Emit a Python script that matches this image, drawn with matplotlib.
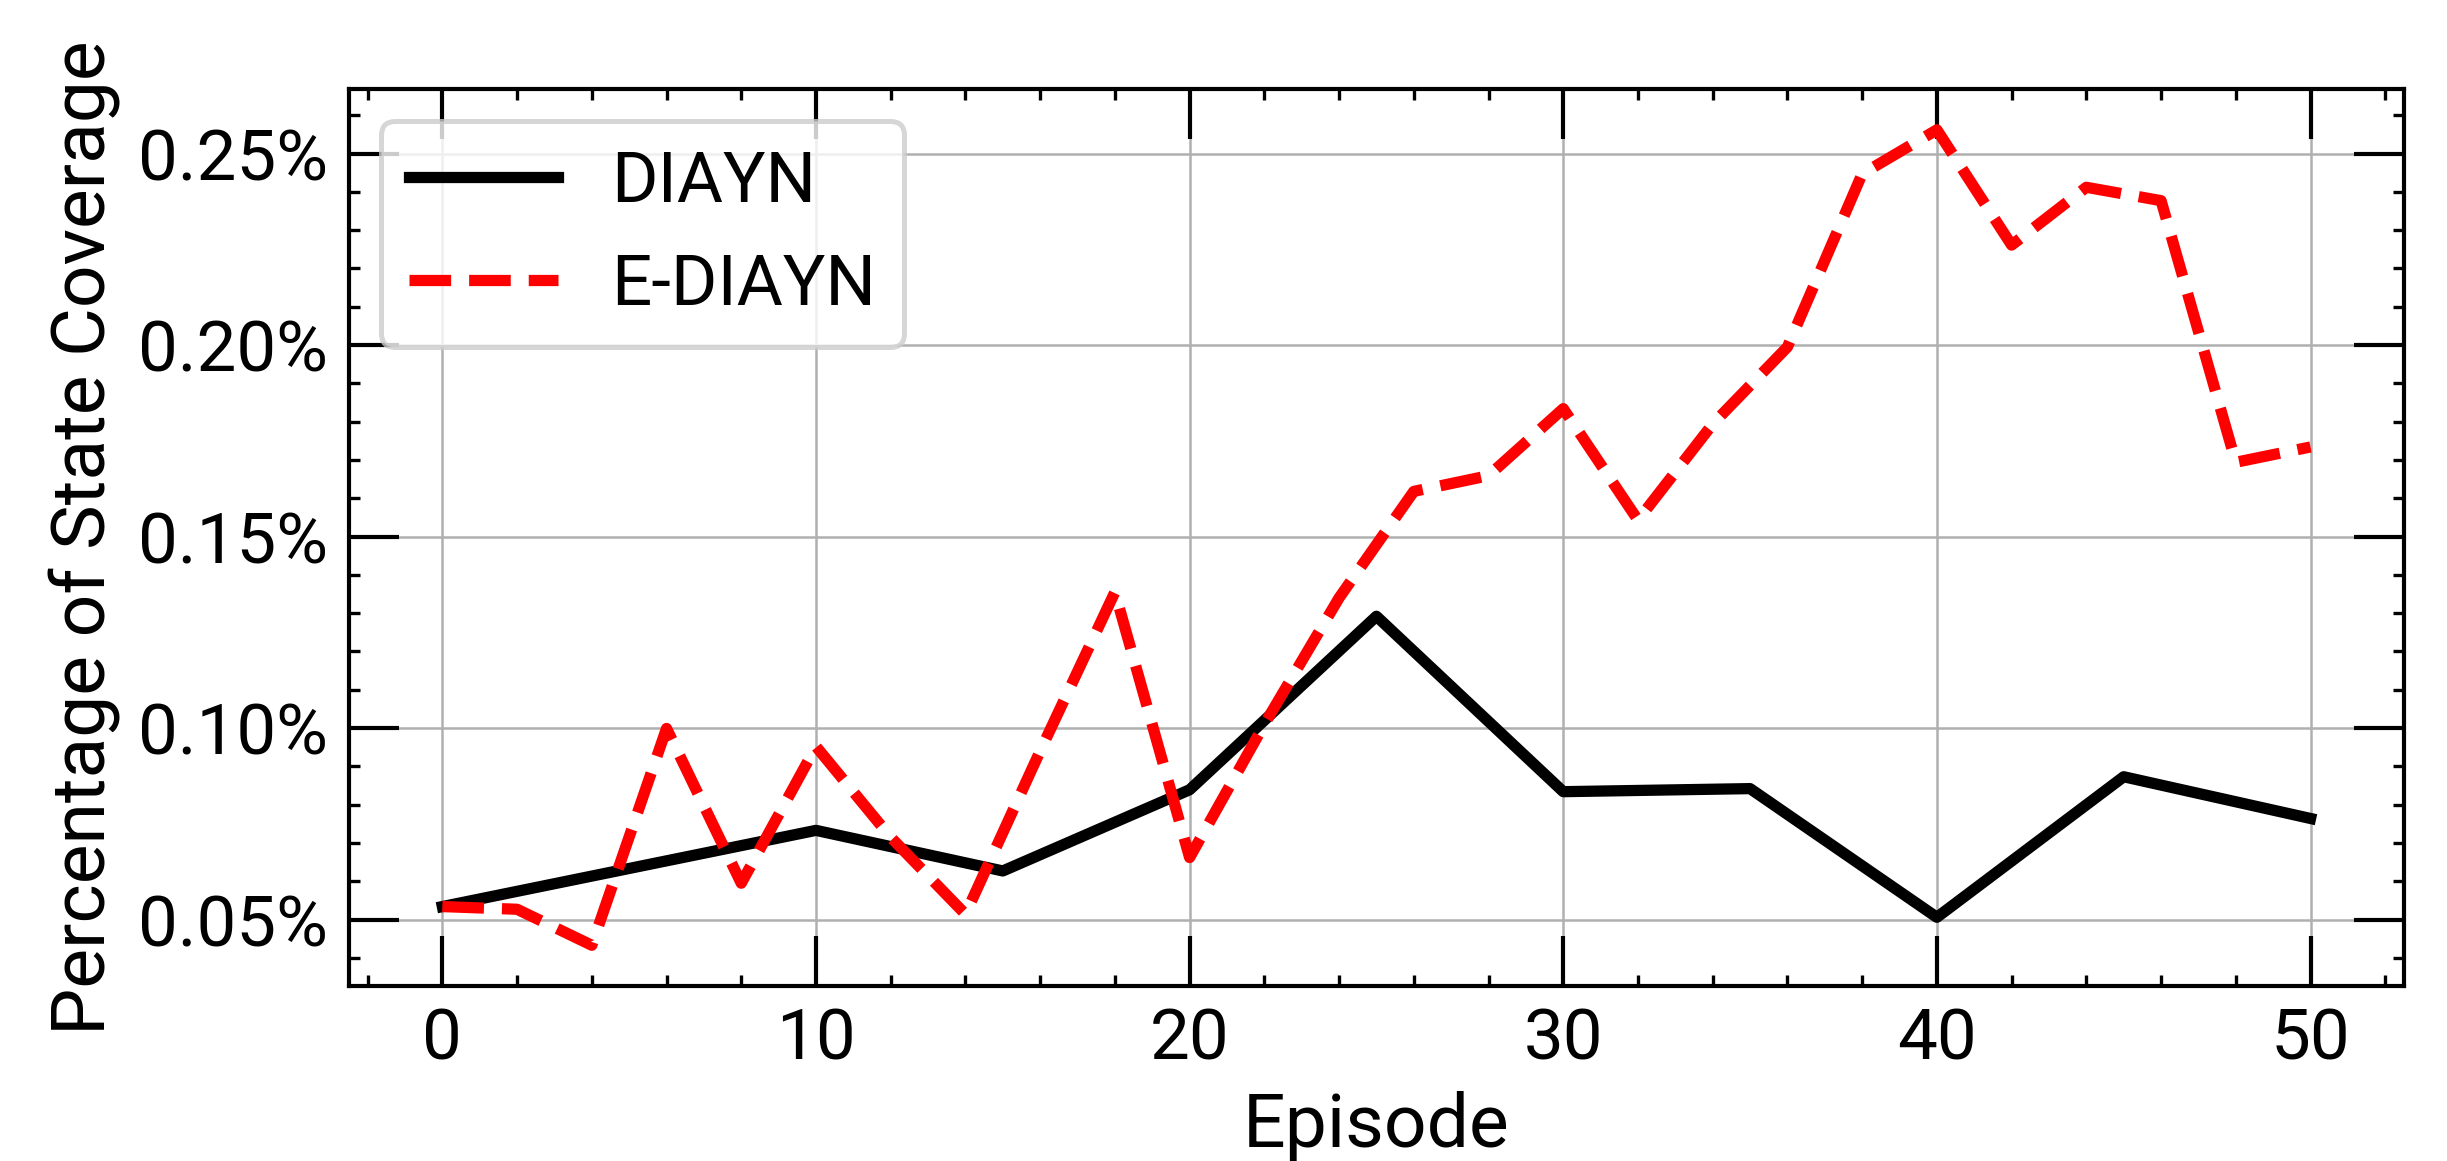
import numpy as np
import matplotlib.pyplot as plt
from matplotlib.ticker import MultipleLocator, FuncFormatter

# Datos
ep_diayn = [0, 10, 15, 20, 25, 30, 35, 40, 45, 50]
cov_diayn = [0.0534, 0.0733, 0.0627, 0.0839, 0.1292, 0.0834, 0.0842, 0.0506, 0.0873, 0.0764]

ep_ediayn = [0, 2, 4, 6, 8, 10, 12, 14, 16, 18, 20, 22, 24, 26,
             28, 30, 32, 34, 36, 38, 40, 42, 44, 46, 48, 50]
cov_ediayn = [0.0534, 0.0527, 0.0433, 0.0999, 0.0595, 0.0952, 0.0715, 0.0514,
              0.0940, 0.1355, 0.0662, 0.1010, 0.1340, 0.1618, 0.1659, 0.1834,
              0.1543, 0.1794, 0.1995, 0.2447, 0.2562, 0.2261, 0.2412, 0.2377,
              0.1694, 0.1734]

plt.rcParams['font.family'] = ['Roboto', 'DejaVu Sans']
plt.rcParams['xtick.direction'] = 'in'
plt.rcParams['ytick.direction'] = 'in'

fig = plt.figure(figsize=(2447 / 300, 1161 / 300), dpi=300)
ax = fig.add_axes([0.1426, 0.1507, 0.8398, 0.7726])

ax.plot(ep_diayn, cov_diayn, color='black', linewidth=2.7, label='DIAYN')
ax.plot(ep_ediayn, cov_ediayn, color='red', linestyle='--', linewidth=2.7,
        label='E-DIAYN')

ax.xaxis.set_major_locator(MultipleLocator(10))
ax.xaxis.set_minor_locator(MultipleLocator(2))
ax.yaxis.set_major_locator(MultipleLocator(0.05))
ax.yaxis.set_minor_locator(MultipleLocator(0.01))
ax.yaxis.set_major_formatter(FuncFormatter(lambda v, p: f'{v:.2f}%'))

ax.tick_params(which='both', top=True, right=True, labelsize=17)
ax.tick_params(which='major', length=12, width=1)
ax.tick_params(which='minor', length=2.6, width=0.8)
ax.tick_params(axis='y', which='major', pad=5)
ax.tick_params(axis='x', which='major', pad=5)
for s in ax.spines.values():
    s.set_linewidth(1)

ax.grid(True, color='#b0b0b0', linewidth=0.6)
ax.set_xlabel('Episode', fontsize=18, labelpad=4)
ax.set_ylabel('Percentage of State Coverage', fontsize=18, labelpad=4)

leg = ax.legend(loc='upper left', fontsize=17, handlelength=2.1,
                handletextpad=0.75, borderaxespad=0.45)
leg.get_frame().set_edgecolor('0.8')
leg.get_frame().set_linewidth(1.2)

fig.savefig('out.png', dpi=300)
